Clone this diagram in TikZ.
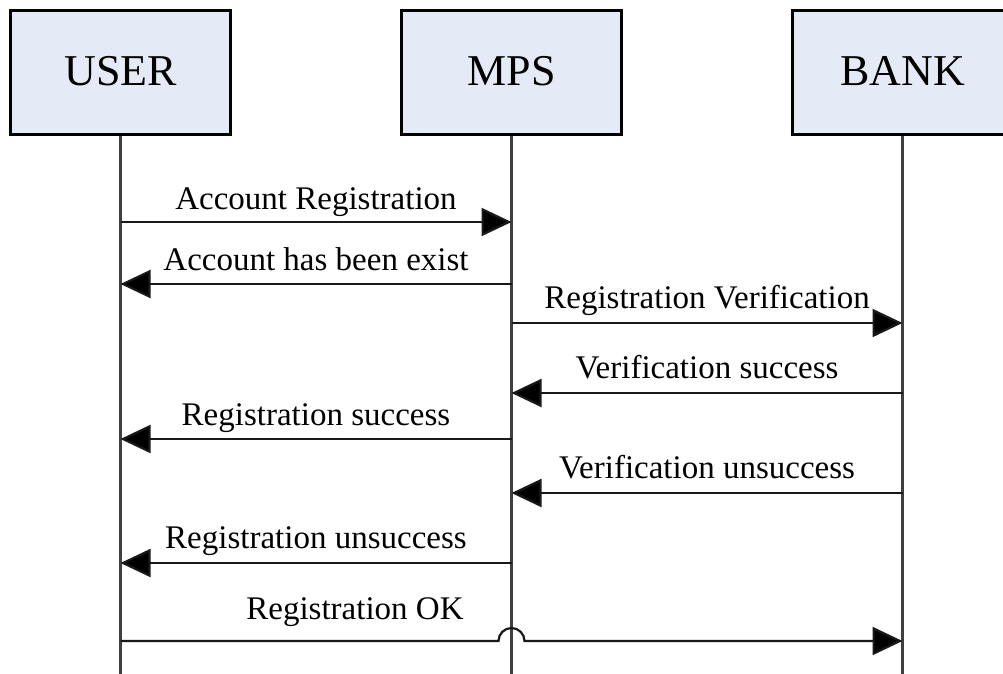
\documentclass[tikz,border=0pt]{standalone}
\usepackage{fontspec}
\setmainfont{Liberation Serif}
\usetikzlibrary{arrows.meta,calc}
\definecolor{boxfill}{HTML}{E4EBF6}
\definecolor{lifecol}{HTML}{404040}
\tikzset{
  actor/.style={draw=black, line width=3.2pt, fill=boxfill, minimum width=220pt, minimum height=124pt, inner sep=0pt, font=\fontsize{44}{48}\selectfont},
  lifeline/.style={draw=lifecol, line width=2.2pt},
  msg/.style={draw=black!90, line width=2.2pt, -{Triangle[length=30pt,width=28pt,fill=black]}},
  lbl/.style={anchor=base, inner sep=0pt, font=\fontsize{33}{36}\selectfont},
  actlbl/.style={anchor=base, inner sep=0pt, font=\fontsize{44}{48}\selectfont}
}
\begin{document}
\begin{tikzpicture}[x=1pt,y=-1pt]
\useasboundingbox (0,0) rectangle (1003,673);
\clip (0,0) rectangle (1003,673);
\fill[white] (0,0) rectangle (1003,673);
% actors
\node[actor] (user) at (120.5,72.5) {};
\node[actor] (mps)  at (511.5,72.5) {};
\node[actor] (bank) at (902.5,72.5) {};
\node[actlbl] (userT) at (120.5,85) {USER};
\node[actlbl] (mpsT) at (511.5,85) {MPS};
\node[actlbl] (bankT) at (902.5,85) {BANK};
% lifeline ends
\coordinate (uend) at (120.5,680);
\coordinate (mend) at (511.5,680);
\coordinate (bend) at (902.5,680);
\draw[lifeline] (user.south) -- (uend);
\draw[lifeline] (mps.south) -- (mend);
\draw[lifeline] (bank.south) -- (bend);
% message anchor points
\foreach \n/\y in {1/222,2/284,3/323,4/393,5/439,6/493,7/563,8/641}{
  \coordinate (u\n) at (120.5,\y);
  \coordinate (m\n) at (511.5,\y);
  \coordinate (b\n) at (902.5,\y);
}
% messages
\draw[msg] (u1) -- (m1);
\node[lbl] (l1) at ($(u1)!0.5!(m1)+(0,-13)$) {Account Registration};
\draw[msg] (m2) -- (u2);
\node[lbl] (l2) at ($(u2)!0.5!(m2)+(0,-14)$) {Account has been exist};
\draw[msg] (m3) -- (b3);
\node[lbl] (l3) at ($(m3)!0.5!(b3)+(0,-15)$) {Registration Verification};
\draw[msg] (b4) -- (m4);
\node[lbl] (l4) at ($(m4)!0.5!(b4)+(0,-15)$) {Verification success};
\draw[msg] (m5) -- (u5);
\node[lbl] (l5) at ($(u5)!0.5!(m5)+(0,-14)$) {Registration success};
\draw[msg] (b6) -- (m6);
\node[lbl] (l6) at ($(m6)!0.5!(b6)+(0,-15)$) {Verification unsuccess};
\draw[msg] (m7) -- (u7);
\node[lbl] (l7) at ($(u7)!0.5!(m7)+(0,-15)$) {Registration unsuccess};
\draw[msg] (u8) -- ($(m8)+(-13,0)$) arc[start angle=180, end angle=360, radius=13] -- (b8);
\node[lbl] (l8) at (355,619) {Registration OK};
\end{tikzpicture}
\end{document}
